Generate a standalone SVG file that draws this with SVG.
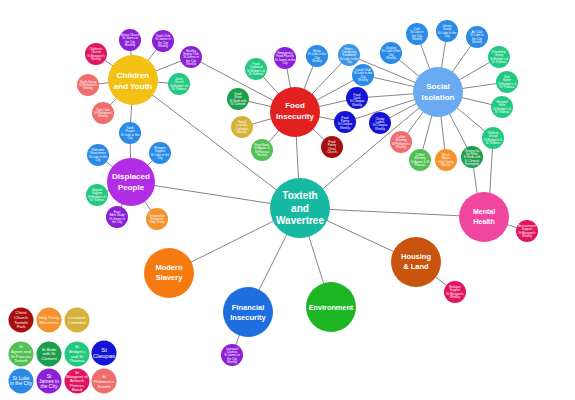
<svg xmlns="http://www.w3.org/2000/svg" width="575" height="400" viewBox="0 0 575 400">
<style>
.e{stroke:#777;stroke-width:0.9;fill:none}
text{font-family:"Liberation Sans",Arial,sans-serif;fill:#fff;text-anchor:middle}
.m{font-weight:bold}
.s{font-size:3px}
.l{font-size:4.2px}
.teal{fill:#18b9a3}.gold{fill:#f2c114}.red{fill:#e32020}.lblue{fill:#6aaaf0}.dpur{fill:#b42de6}
.pink{fill:#f046a0}.brown{fill:#c9540e}.orng{fill:#f57b10}.fblue{fill:#1f6ee0}.env{fill:#1cb524}
.jam{fill:#8c1fd8}.luk{fill:#2a8ae8}.cle{fill:#1414d6}.mar{fill:#e3145f}.phi{fill:#f06d6d}
.bri{fill:#22c980}.bed{fill:#1c9e4c}.agn{fill:#52c052}.hol{fill:#f5922c}.cat{fill:#d6b23a}.chr{fill:#a80f0f}.hope{fill:#3a95ea}
</style>
<g id="connectors">
<line class="e" x1="300" y1="208" x2="133" y2="80"/>
<line class="e" x1="300" y1="208" x2="295" y2="112"/>
<line class="e" x1="300" y1="208" x2="438" y2="92"/>
<line class="e" x1="300" y1="208" x2="131" y2="182"/>
<line class="e" x1="300" y1="208" x2="484" y2="217"/>
<line class="e" x1="300" y1="208" x2="416" y2="262"/>
<line class="e" x1="300" y1="208" x2="331" y2="307"/>
<line class="e" x1="300" y1="208" x2="248" y2="312"/>
<line class="e" x1="300" y1="208" x2="169" y2="273"/>
<line class="e" x1="133" y1="80" x2="130" y2="40"/>
<line class="e" x1="133" y1="80" x2="163" y2="41"/>
<line class="e" x1="133" y1="80" x2="191" y2="57"/>
<line class="e" x1="133" y1="80" x2="96" y2="54"/>
<line class="e" x1="133" y1="80" x2="88" y2="85"/>
<line class="e" x1="133" y1="80" x2="179" y2="84"/>
<line class="e" x1="133" y1="80" x2="103" y2="113"/>
<line class="e" x1="133" y1="80" x2="130" y2="133"/>
<line class="e" x1="191" y1="57" x2="295" y2="112"/>
<line class="e" x1="130" y1="133" x2="131" y2="182"/>
<line class="e" x1="295" y1="112" x2="285" y2="58"/>
<line class="e" x1="295" y1="112" x2="317" y2="56"/>
<line class="e" x1="295" y1="112" x2="349" y2="55"/>
<line class="e" x1="295" y1="112" x2="256" y2="69"/>
<line class="e" x1="295" y1="112" x2="363" y2="75"/>
<line class="e" x1="295" y1="112" x2="238" y2="99"/>
<line class="e" x1="295" y1="112" x2="357" y2="98"/>
<line class="e" x1="295" y1="112" x2="242" y2="127"/>
<line class="e" x1="295" y1="112" x2="345" y2="122"/>
<line class="e" x1="295" y1="112" x2="262" y2="150"/>
<line class="e" x1="295" y1="112" x2="332" y2="147"/>
<line class="e" x1="438" y1="92" x2="349" y2="55"/>
<line class="e" x1="438" y1="92" x2="363" y2="75"/>
<line class="e" x1="438" y1="92" x2="357" y2="98"/>
<line class="e" x1="438" y1="92" x2="345" y2="122"/>
<line class="e" x1="438" y1="92" x2="417" y2="34"/>
<line class="e" x1="438" y1="92" x2="447" y2="31"/>
<line class="e" x1="438" y1="92" x2="477" y2="37"/>
<line class="e" x1="438" y1="92" x2="391" y2="53"/>
<line class="e" x1="438" y1="92" x2="499" y2="57"/>
<line class="e" x1="438" y1="92" x2="507" y2="82"/>
<line class="e" x1="438" y1="92" x2="502" y2="107"/>
<line class="e" x1="438" y1="92" x2="380" y2="123"/>
<line class="e" x1="438" y1="92" x2="401" y2="142"/>
<line class="e" x1="438" y1="92" x2="420" y2="160"/>
<line class="e" x1="438" y1="92" x2="446" y2="160"/>
<line class="e" x1="438" y1="92" x2="472" y2="157"/>
<line class="e" x1="438" y1="92" x2="493" y2="138"/>
<line class="e" x1="472" y1="157" x2="479" y2="207"/>
<line class="e" x1="493" y1="138" x2="489" y2="207"/>
<line class="e" x1="131" y1="182" x2="98" y2="155"/>
<line class="e" x1="131" y1="182" x2="160" y2="153"/>
<line class="e" x1="131" y1="182" x2="97" y2="195"/>
<line class="e" x1="131" y1="182" x2="117" y2="217"/>
<line class="e" x1="131" y1="182" x2="157" y2="219"/>
<line class="e" x1="484" y1="217" x2="527" y2="231"/>
<line class="e" x1="416" y1="262" x2="455" y2="292"/>
<line class="e" x1="248" y1="312" x2="232" y2="355"/>
</g>

<g id="toxteth"><circle class="teal" cx="300" cy="208" r="30"/><text class="m" font-size="10" x="300" y="199">Toxteth<tspan x="300" dy="12.5">and</tspan><tspan x="300" dy="12.5">Wavertree</tspan></text></g>
<g id="children"><circle class="gold" cx="133" cy="80" r="25"/><text class="m" font-size="8" x="133" y="78">Children<tspan x="133" dy="11">and Youth</tspan></text></g>
<g id="food"><circle class="red" cx="295" cy="112" r="25"/><text class="m" font-size="8" x="295" y="108">Food<tspan x="295" dy="10.5">Insecurity</tspan></text></g>
<g id="social"><circle class="lblue" cx="438" cy="92" r="25"/><text class="m" font-size="8" x="438" y="89">Social<tspan x="438" dy="10.5">Isolation</tspan></text></g>
<g id="displaced"><circle class="dpur" cx="131" cy="182" r="24"/><text class="m" font-size="8" x="131" y="179">Displaced<tspan x="131" dy="10.5">People</tspan></text></g>
<g id="mental"><circle class="pink" cx="484" cy="217" r="25"/><text class="m" font-size="7" x="484" y="214">Mental<tspan x="484" dy="10">Health</tspan></text></g>
<g id="housing"><circle class="brown" cx="416" cy="262" r="25"/><text class="m" font-size="7.5" x="416" y="259">Housing<tspan x="416" dy="9.5">&amp; Land</tspan></text></g>
<g id="slavery"><circle class="orng" cx="169" cy="273" r="25"/><text class="m" font-size="7.5" x="169" y="270">Modern<tspan x="169" dy="10">Slavery</tspan></text></g>
<g id="financial"><circle class="fblue" cx="248" cy="312" r="25"/><text class="m" font-size="7.5" x="248" y="310">Financial<tspan x="248" dy="10">Insecurity</tspan></text></g>
<g id="environment"><circle class="env" cx="331" cy="307" r="25"/><text class="m" font-size="7.3" x="331" y="309.5">Environment</text></g>

<g id="c1"><circle class="jam" cx="130" cy="40" r="11"/><text class="s" x="130" y="36">Messy Church<tspan x="130" dy="3.4">St James in</tspan><tspan x="130" dy="3.4">the City</tspan><tspan x="130" dy="3.4">Monthly</tspan></text></g>
<g id="c2"><circle class="jam" cx="163" cy="41" r="11"/><text class="s" x="163" y="37">Youth Club<tspan x="163" dy="3.4">St James in</tspan><tspan x="163" dy="3.4">the City</tspan><tspan x="163" dy="3.4">Weekly</tspan></text></g>
<g id="c3"><circle class="jam" cx="191" cy="57" r="11"/><text class="s" x="191" y="51.5">Healthy<tspan x="191" dy="3.4">Eating Club</tspan><tspan x="191" dy="3.4">St James in</tspan><tspan x="191" dy="3.4">the City</tspan><tspan x="191" dy="3.4">Weekly</tspan></text></g>
<g id="c4"><circle class="mar" cx="96" cy="54" r="11"/><text class="s" x="96" y="50">Children's<tspan x="96" dy="3.4">Church</tspan><tspan x="96" dy="3.4">St Margaret's</tspan><tspan x="96" dy="3.4">Weekly</tspan></text></g>
<g id="c5"><circle class="phi" cx="88" cy="85" r="11"/><text class="s" x="88" y="82.5">Youth Group<tspan x="88" dy="3.4">St Philemon's</tspan><tspan x="88" dy="3.4">Weekly</tspan></text></g>
<g id="c6"><circle class="bri" cx="179" cy="84" r="11"/><text class="s" x="179" y="80">Junior<tspan x="179" dy="3.4">Church</tspan><tspan x="179" dy="3.4">St Bridget's &amp;</tspan><tspan x="179" dy="3.4">St Thomas</tspan></text></g>
<g id="c7"><circle class="phi" cx="103" cy="113" r="11"/><text class="s" x="103" y="110.5">Kids Club<tspan x="103" dy="3.4">St Philemon's</tspan><tspan x="103" dy="3.4">Weekly</tspan></text></g>
<g id="c8"><circle class="luk" cx="130" cy="133" r="11"/><text class="s" x="130" y="129">Youth<tspan x="130" dy="3.4">Project</tspan><tspan x="130" dy="3.4">St Luke in the</tspan><tspan x="130" dy="3.4">City</tspan></text></g>

<g id="f1"><circle class="jam" cx="285" cy="58" r="11"/><text class="s" x="285" y="54">Emergency<tspan x="285" dy="3.4">Food Parcels</tspan><tspan x="285" dy="3.4">St James in the</tspan><tspan x="285" dy="3.4">City</tspan></text></g>
<g id="f2"><circle class="luk" cx="317" cy="56" r="11"/><text class="s" x="317" y="52">Meals<tspan x="317" dy="3.4">St Luke in the</tspan><tspan x="317" dy="3.4">City</tspan><tspan x="317" dy="3.4">Weekly</tspan></text></g>
<g id="f3"><circle class="hope" cx="349" cy="55" r="11"/><text class="s" x="349" y="49.5">Hope+<tspan x="349" dy="3.4">Community</tspan><tspan x="349" dy="3.4">Foodbank</tspan><tspan x="349" dy="3.4">St Luke in the</tspan><tspan x="349" dy="3.4">City</tspan></text></g>
<g id="f4"><circle class="bri" cx="256" cy="69" r="11"/><text class="s" x="256" y="65">Food<tspan x="256" dy="3.4">Cupboard</tspan><tspan x="256" dy="3.4">St Bridget's &amp;</tspan><tspan x="256" dy="3.4">St Thomas</tspan></text></g>
<g id="f5"><circle class="luk" cx="363" cy="75" r="11"/><text class="s" x="363" y="71">Lunch Club<tspan x="363" dy="3.4">St Luke in the</tspan><tspan x="363" dy="3.4">City</tspan><tspan x="363" dy="3.4">Weekly</tspan></text></g>
<g id="f6"><circle class="bed" cx="238" cy="99" r="11"/><text class="s" x="238" y="95">Food<tspan x="238" dy="3.4">Share</tspan><tspan x="238" dy="3.4">St Bede with</tspan><tspan x="238" dy="3.4">St Clement</tspan></text></g>
<g id="f7"><circle class="cle" cx="357" cy="98" r="11"/><text class="s" x="357" y="95.5">Food<tspan x="357" dy="3.4">Cycle</tspan><tspan x="357" dy="3.4">St Cleopas</tspan><tspan x="357" dy="3.4">Weekly</tspan></text></g>
<g id="f8"><circle class="cat" cx="242" cy="127" r="11"/><text class="s" x="242" y="123">Social<tspan x="242" dy="3.4">Lunches</tspan><tspan x="242" dy="3.4">Cathedral</tspan><tspan x="242" dy="3.4">Weekly</tspan></text></g>
<g id="f9"><circle class="cle" cx="345" cy="122" r="11"/><text class="s" x="345" y="118.5">Food<tspan x="345" dy="3.4">Pantry</tspan><tspan x="345" dy="3.4">St Cleopas</tspan><tspan x="345" dy="3.4">Weekly</tspan></text></g>
<g id="f10"><circle class="agn" cx="262" cy="150" r="11"/><text class="s" x="262" y="146">Food Bank<tspan x="262" dy="3.4">St Agnes &amp;</tspan><tspan x="262" dy="3.4">St Pancras</tspan><tspan x="262" dy="3.4">Weekly</tspan></text></g>
<g id="f11"><circle class="chr" cx="332" cy="147" r="11"/><text class="s" x="332" y="143">Food<tspan x="332" dy="3.4">Pantry</tspan><tspan x="332" dy="3.4">Christ</tspan><tspan x="332" dy="3.4">Church</tspan></text></g>

<g id="s1"><circle class="luk" cx="417" cy="34" r="11"/><text class="s" x="417" y="30">Cafe<tspan x="417" dy="3.4">St Luke in</tspan><tspan x="417" dy="3.4">the City</tspan><tspan x="417" dy="3.4">Weekly</tspan></text></g>
<g id="s2"><circle class="luk" cx="447" cy="31" r="11"/><text class="s" x="447" y="27">Library<tspan x="447" dy="3.4">Group</tspan><tspan x="447" dy="3.4">St Luke in the</tspan><tspan x="447" dy="3.4">City</tspan></text></g>
<g id="s3"><circle class="luk" cx="477" cy="37" r="11"/><text class="s" x="477" y="33">Art Club<tspan x="477" dy="3.4">St Luke in</tspan><tspan x="477" dy="3.4">the City</tspan><tspan x="477" dy="3.4">Weekly</tspan></text></g>
<g id="s4"><circle class="luk" cx="391" cy="53" r="11"/><text class="s" x="391" y="49">Singing<tspan x="391" dy="3.4">St Luke in the</tspan><tspan x="391" dy="3.4">City</tspan><tspan x="391" dy="3.4">Weekly</tspan></text></g>
<g id="s5"><circle class="bri" cx="499" cy="57" r="11"/><text class="s" x="499" y="53">Friendship<tspan x="499" dy="3.4">Group</tspan><tspan x="499" dy="3.4">St Bridget's &amp;</tspan><tspan x="499" dy="3.4">St Thomas</tspan></text></g>
<g id="s6"><circle class="bri" cx="507" cy="82" r="11"/><text class="s" x="507" y="78">Knit<tspan x="507" dy="3.4">Natter</tspan><tspan x="507" dy="3.4">St Bridget's &amp;</tspan><tspan x="507" dy="3.4">St Thomas</tspan></text></g>
<g id="s7"><circle class="bri" cx="502" cy="107" r="11"/><text class="s" x="502" y="103">Hospital<tspan x="502" dy="3.4">Visits</tspan><tspan x="502" dy="3.4">St Bridget's &amp;</tspan><tspan x="502" dy="3.4">St Thomas</tspan></text></g>
<g id="s8"><circle class="cle" cx="380" cy="123" r="11"/><text class="s" x="380" y="119.5">Chatty<tspan x="380" dy="3.4">Ladies</tspan><tspan x="380" dy="3.4">St Cleopas</tspan><tspan x="380" dy="3.4">Weekly</tspan></text></g>
<g id="s9"><circle class="phi" cx="401" cy="142" r="11"/><text class="s" x="401" y="138">Coffee<tspan x="401" dy="3.4">Morning</tspan><tspan x="401" dy="3.4">St Philemon's</tspan><tspan x="401" dy="3.4">Weekly</tspan></text></g>
<g id="s10"><circle class="agn" cx="420" cy="160" r="11"/><text class="s" x="420" y="156">Coffee<tspan x="420" dy="3.4">Morning</tspan><tspan x="420" dy="3.4">St Agnes &amp; St</tspan><tspan x="420" dy="3.4">Pancras</tspan></text></g>
<g id="s11"><circle class="hol" cx="446" cy="160" r="11"/><text class="s" x="446" y="156">Warm<tspan x="446" dy="3.4">Space</tspan><tspan x="446" dy="3.4">Holy Trinity</tspan><tspan x="446" dy="3.4">Weekly</tspan></text></g>
<g id="s12"><circle class="bed" cx="472" cy="157" r="11"/><text class="s" x="472" y="151.5">Singing for<tspan x="472" dy="3.4">the Brain</tspan><tspan x="472" dy="3.4">St Bede with</tspan><tspan x="472" dy="3.4">St Clement</tspan><tspan x="472" dy="3.4">Fortnightly</tspan></text></g>
<g id="s13"><circle class="bri" cx="493" cy="138" r="11"/><text class="s" x="493" y="134">Walking<tspan x="493" dy="3.4">Group</tspan><tspan x="493" dy="3.4">St Bridget's &amp;</tspan><tspan x="493" dy="3.4">St Thomas</tspan></text></g>

<g id="d1"><circle class="luk" cx="98" cy="155" r="11"/><text class="s" x="98" y="151">Welcome<tspan x="98" dy="3.4">Newcomers</tspan><tspan x="98" dy="3.4">St Luke in the</tspan><tspan x="98" dy="3.4">City</tspan></text></g>
<g id="d2"><circle class="luk" cx="160" cy="153" r="11"/><text class="s" x="160" y="149">Refugee<tspan x="160" dy="3.4">Support</tspan><tspan x="160" dy="3.4">St Luke in the</tspan><tspan x="160" dy="3.4">City</tspan></text></g>
<g id="d3"><circle class="bri" cx="97" cy="195" r="11"/><text class="s" x="97" y="191">Migrant<tspan x="97" dy="3.4">Support</tspan><tspan x="97" dy="3.4">St Bridget's &amp;</tspan><tspan x="97" dy="3.4">St Thomas</tspan></text></g>
<g id="d4"><circle class="jam" cx="117" cy="217" r="11"/><text class="s" x="117" y="213">Farsi<tspan x="117" dy="3.4">Bible Study</tspan><tspan x="117" dy="3.4">St James in</tspan><tspan x="117" dy="3.4">the City</tspan></text></g>
<g id="d5"><circle class="hol" cx="157" cy="219" r="11"/><text class="s" x="157" y="216.5">Befriending<tspan x="157" dy="3.4">Refugees</tspan><tspan x="157" dy="3.4">Holy Trinity</tspan></text></g>

<g id="m1"><circle class="mar" cx="527" cy="231" r="11"/><text class="s" x="527" y="227">Bereavement<tspan x="527" dy="3.4">Support</tspan><tspan x="527" dy="3.4">St Margaret's</tspan><tspan x="527" dy="3.4">Weekly</tspan></text></g>
<g id="h1"><circle class="mar" cx="455" cy="292" r="11"/><text class="s" x="455" y="288">Refugee<tspan x="455" dy="3.4">Support</tspan><tspan x="455" dy="3.4">St Margaret's</tspan><tspan x="455" dy="3.4">Weekly</tspan></text></g>
<g id="n1"><circle class="jam" cx="232" cy="355" r="11"/><text class="s" x="232" y="349.5">Liverpool<tspan x="232" dy="3.4">Citizens</tspan><tspan x="232" dy="3.4">St James in</tspan><tspan x="232" dy="3.4">the City</tspan><tspan x="232" dy="3.4">Weekly</tspan></text></g>

<g id="legend">
<g id="lg-christ"><circle class="chr" cx="21" cy="320" r="12.5"/><text class="l" x="21" y="314">Christ<tspan x="21" dy="4.8">Church</tspan><tspan x="21" dy="4.8">Toxteth</tspan><tspan x="21" dy="4.8">Park</tspan></text></g>
<g id="lg-holy"><circle class="hol" cx="49" cy="320" r="12.5"/><text class="l" x="49" y="319">Holy Trinity<tspan x="49" dy="4.8">Wavertree</tspan></text></g>
<g id="lg-cath"><circle class="cat" cx="77" cy="320" r="12.5"/><text class="l" x="77" y="319">Liverpool<tspan x="77" dy="4.8">Cathedral</tspan></text></g>
<g id="lg-agnes"><circle class="agn" cx="21" cy="354" r="12.5"/><text class="l" x="21" y="348">St<tspan x="21" dy="4.8">Agnes and</tspan><tspan x="21" dy="4.8">St Pancras</tspan><tspan x="21" dy="4.8">Toxteth</tspan></text></g>
<g id="lg-bede"><circle class="bed" cx="49" cy="354" r="12.5"/><text class="l" x="49" y="350.5">St Bede<tspan x="49" dy="4.8">with St</tspan><tspan x="49" dy="4.8">Clement</tspan></text></g>
<g id="lg-bridget"><circle class="bri" cx="77" cy="354" r="12.5"/><text class="l" x="77" y="348">St<tspan x="77" dy="4.8">Bridget's</tspan><tspan x="77" dy="4.8">and St</tspan><tspan x="77" dy="4.8">Thomas</tspan></text></g>
<g id="lg-cleopas"><circle class="cle" cx="104" cy="353" r="12.5"/><text font-size="6" x="104" y="351.5">St<tspan x="104" dy="6.2">Cleopas</tspan></text></g>
<g id="lg-luke"><circle class="luk" cx="21" cy="381" r="12.5"/><text font-size="5" x="21" y="380">St Luke<tspan x="21" dy="5.4">in the City</tspan></text></g>
<g id="lg-james"><circle class="jam" cx="49" cy="381" r="12.5"/><text font-size="5" x="49" y="377.5">St<tspan x="49" dy="5.2">James in</tspan><tspan x="49" dy="5.2">the City</tspan></text></g>
<g id="lg-margaret"><circle class="mar" cx="77" cy="381" r="12.5"/><text class="l" x="77" y="373.5">St<tspan x="77" dy="4.4">Margaret of</tspan><tspan x="77" dy="4.4">Antioch</tspan><tspan x="77" dy="4.4">Princes</tspan><tspan x="77" dy="4.4">Road</tspan></text></g>
<g id="lg-philemon"><circle class="phi" cx="104" cy="381" r="12.5"/><text class="l" x="104" y="378">St<tspan x="104" dy="4.8">Philemon's</tspan><tspan x="104" dy="4.8">Toxteth</tspan></text></g>
</g>
</svg>
